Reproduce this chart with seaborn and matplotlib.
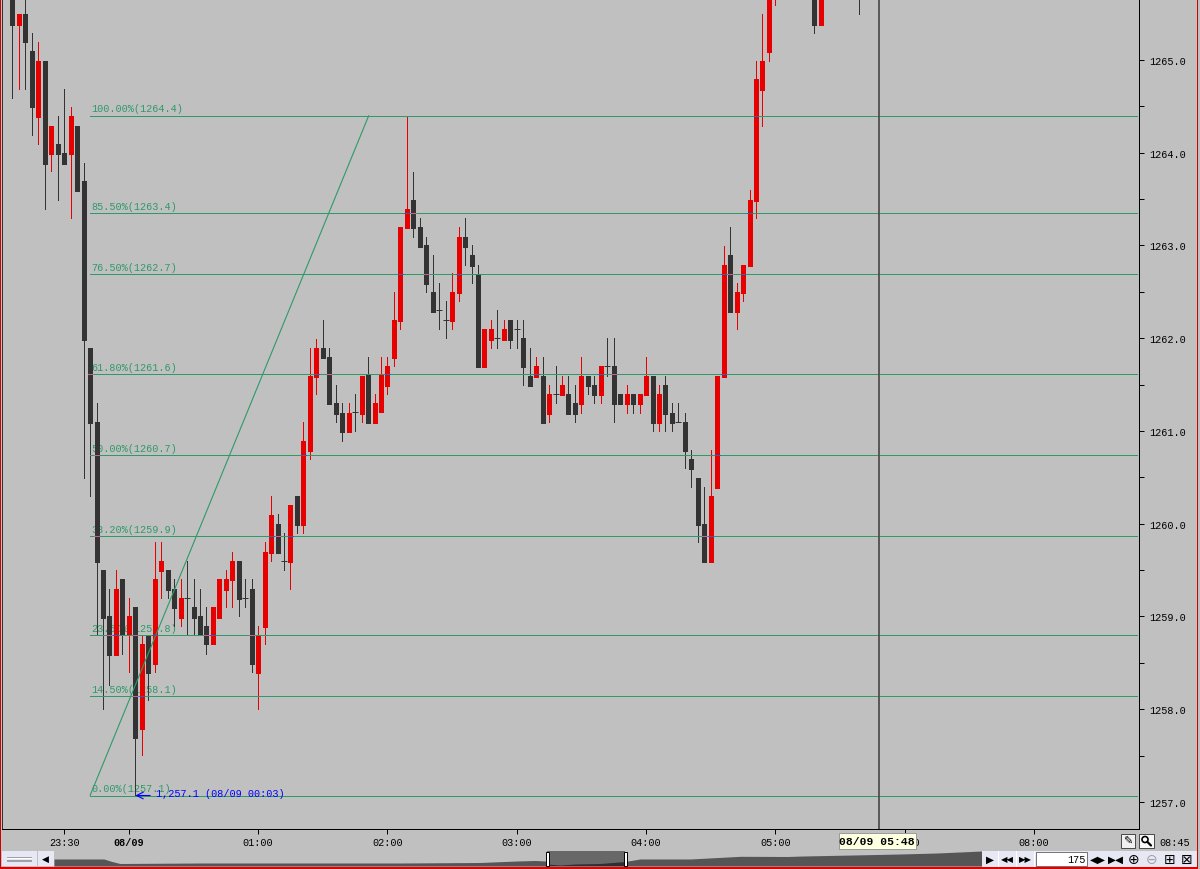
import numpy as np
import pandas as pd
import seaborn as sns
import matplotlib
matplotlib.use('Agg')
import matplotlib.pyplot as plt
from matplotlib.patches import Rectangle, Circle

nan = float('nan')

# 3 minute bars, bar 0 is 23:06. nan = bar is completely above the window
opens = [1265.9,1265.38,1265.5,1265.1,1264.39,1264.99,1263.99,1264.09,1264.0,1263.99,
         1264.29,1263.7,1261.89,1261.1,1259.5,1259.0,1258.58,1259.4,1258.8,1259.1,
         1257.79,1258.8,1258.49,1259.49,1259.5,1259.3,1258.98,1259.2,1259.1,1259.0,
         1258.9,1258.7,1258.98,1259.29,1259.39,1259.6,1259.2,1259.3,1258.39,1258.89,
         1259.68,1260.0,1259.6,1259.59,1260.3,1259.99,1260.78,1261.58,1261.89,1261.8,
         1261.3,1261.19,1260.99,1261.2,1261.18,1261.6,1261.09,1261.2,1261.49,1261.79,
         1262.19,1263.19,1263.49,1263.2,1263.0,1262.5,1262.3,1262.2,1262.19,1262.49,
         1263.09,1262.9,1262.68,1261.69,1261.98,1262.0,1261.98,1262.2,1262.1,1262.0,
         1261.59,1261.58,1261.59,1261.18,1261.4,1261.39,1261.4,1261.3,1261.29,1261.59,
         1261.5,1261.39,1261.7,1261.7,1261.4,1261.29,1261.4,1261.29,1261.39,1261.59,
         1261.09,1261.5,1261.19,1261.1,1261.1,1260.7,1260.49,1260.0,1259.59,1260.39,
         1261.58,1262.9,1262.28,1262.49,1262.78,1263.48,1264.68,1265.09,1265.9,nan,
         nan,nan,nan,nan,1265.9,1265.38,nan,nan,nan,nan,nan,1265.9]
highs = [1266.0,1265.5,1265.8,1265.29,1265.19,1264.99,1264.29,1264.4,1264.69,1264.49,
         1264.29,1263.89,1261.89,1261.3,1259.5,1259.3,1259.5,1259.4,1259.2,1259.1,
         1258.8,1258.8,1259.8,1259.8,1259.5,1259.4,1259.4,1259.6,1259.4,1259.3,
         1259.1,1259.1,1259.4,1259.5,1259.7,1259.6,1259.4,1259.4,1258.9,1259.8,
         1260.3,1260.1,1259.9,1260.2,1260.3,1261.1,1261.89,1261.99,1262.2,1261.89,
         1261.5,1261.3,1261.3,1261.4,1261.59,1261.8,1261.4,1261.8,1261.8,1262.5,
         1263.2,1264.4,1263.79,1263.3,1263.09,1262.9,1262.6,1262.4,1262.7,1263.2,
         1263.3,1263.0,1262.79,1262.1,1262.2,1262.3,1262.2,1262.2,1262.2,1262.2,
         1261.89,1261.8,1261.8,1261.5,1261.7,1261.59,1261.59,1261.5,1261.8,1261.59,
         1261.59,1261.7,1262.0,1262.0,1261.4,1261.5,1261.4,1261.4,1261.8,1261.59,
         1261.5,1261.59,1261.3,1261.3,1261.19,1260.79,1260.49,1260.4,1260.79,1261.59,
         1262.99,1263.2,1262.6,1262.79,1263.6,1264.99,1265.5,1265.9,1266.0,nan,
         nan,nan,nan,nan,1266.0,1265.9,nan,nan,nan,nan,nan,1266.0]
lows = [1264.59,1264.69,1264.69,1264.19,1264.09,1263.39,1263.8,1263.49,1263.88,1263.3,
        1263.59,1260.49,1260.3,1258.81,1258.0,1258.26,1258.58,1258.6,1258.4,1257.07,
        1257.51,1258.1,1258.4,1259.2,1259.2,1258.9,1258.9,1258.8,1258.8,1258.8,
        1258.6,1258.7,1258.98,1259.1,1259.1,1259.0,1259.1,1258.4,1258.0,1258.7,
        1259.6,1259.68,1259.5,1259.3,1259.9,1259.9,1260.7,1261.4,1261.79,1261.29,
        1261.1,1260.89,1260.99,1261.0,1261.1,1261.09,1261.09,1261.2,1261.4,1261.7,
        1262.1,1263.19,1263.09,1262.98,1262.5,1262.28,1262.1,1262.0,1262.1,1262.4,
        1262.79,1262.6,1261.69,1261.69,1261.89,1261.89,1261.98,1261.89,1261.89,1261.5,
        1261.49,1261.58,1261.09,1261.1,1261.3,1261.39,1261.18,1261.1,1261.19,1261.4,
        1261.3,1261.3,1261.59,1261.1,1261.29,1261.19,1261.19,1261.19,1261.39,1261.0,
        1261.0,1261.0,1261.0,1261.1,1260.6,1260.4,1259.8,1259.59,1259.59,1260.39,
        1261.58,1262.28,1262.1,1262.4,1262.78,1263.3,1264.29,1264.99,1265.59,nan,
        nan,nan,nan,nan,1265.29,1265.38,nan,nan,nan,nan,nan,1265.5]
closes = [1265.38,1265.5,1265.19,1264.49,1264.99,1263.88,1264.29,1263.99,1263.88,1264.4,
          1263.59,1261.98,1261.09,1259.59,1258.98,1258.58,1259.3,1258.8,1259.0,1257.69,
          1258.7,1258.39,1259.4,1259.6,1259.29,1259.09,1259.2,1259.2,1258.98,1258.8,
          1258.7,1259.1,1259.4,1259.4,1259.6,1259.19,1259.2,1258.49,1258.8,1259.7,
          1260.09,1259.68,1259.6,1260.2,1259.99,1260.89,1261.59,1261.89,1261.79,1261.29,
          1261.18,1260.99,1261.19,1261.2,1261.59,1261.09,1261.3,1261.6,1261.7,1262.2,
          1263.2,1263.39,1263.19,1262.98,1262.58,1262.28,1262.3,1262.2,1262.5,1263.09,
          1262.98,1262.78,1261.69,1262.1,1262.1,1262.0,1262.1,1261.98,1262.1,1261.69,
          1261.49,1261.7,1261.09,1261.4,1261.4,1261.5,1261.18,1261.18,1261.59,1261.49,
          1261.39,1261.7,1261.7,1261.29,1261.29,1261.4,1261.29,1261.4,1261.59,1261.09,
          1261.4,1261.18,1261.09,1261.1,1260.78,1260.59,1259.99,1259.59,1260.3,1261.59,
          1262.79,1262.28,1262.5,1262.79,1263.49,1264.8,1264.99,1265.8,1265.95,nan,
          nan,nan,nan,nan,1265.38,1265.9,nan,nan,nan,nan,nan,1265.8]

fib_levels = [1264.40,1263.35,1262.69,1261.61,1260.74,1259.87,1258.80,1258.14,1257.07]
fib_labels = ['100.00%(1264.4)','85.50%(1263.4)','76.50%(1262.7)','61.80%(1261.6)','50.00%(1260.7)',
              '38.20%(1259.9)','23.50%(1258.8)','14.50%(1258.1)','0.00%(1257.1)']
fib_start = 12
fib_end = 173.9
swing_bars = [12, 55.1]
swing_prices = [1257.07, 1264.40]

x_ticks = [8, 18, 38, 58, 78, 98, 118, 138, 158]
x_labels = ['23:30', '08/09', '01:00', '02:00', '03:00', '04:00', '05:00', '06:00', '08:00']
y_ticks = [1257, 1258, 1259, 1260, 1261, 1262, 1263, 1264, 1265]
crosshair_bar = 134

# overview strip at the bottom (estimated from the silhouette)
overview_pos = [0, 50, 58, 66, 146, 246, 346, 426, 463, 481, 492]
overview_vol = [7, 7, 4.5, 2.5, 3, 3, 3, 3.5, 5, 5.5, 5]
selected_pos = [493, 506, 521, 546, 556, 571]
selected_vol = [2, 1, 2, 2.5, 3.3, 4.5]
later_pos = [571, 586, 636, 687, 733, 749, 799, 846, 883, 928]
later_vol = [4.5, 7, 7, 9.7, 9.5, 10, 11, 12, 13, 15]

BG = '#C0C0C0'
RED = '#E60000'
DARK = '#333333'
GREEN = '#2E9A68'

sns.set_theme(style='white', rc={'axes.facecolor': BG, 'figure.facecolor': BG, 'savefig.facecolor': BG})
plt.rcParams['font.family'] = ['Liberation Mono', 'DejaVu Sans']

df = pd.DataFrame({'open': opens, 'high': highs, 'low': lows, 'close': closes})
df['bar'] = df.index
df = df.dropna()
df['kind'] = np.where(df['close'] > df['open'], 'up', 'down')
doji = df[df['close'] == df['open']]
solid = df[df['close'] != df['open']]
colors = {'up': RED, 'down': DARK}

wicks = df.melt(id_vars=['bar', 'kind'], value_vars=['low', 'high'], value_name='price')
bodies = solid.melt(id_vars=['bar', 'kind'], value_vars=['open', 'close'], value_name='price')

fig = plt.figure(figsize=(12, 8.7), dpi=100)
ax = fig.add_axes([2 / 1200, 40 / 870, 1136.5 / 1200, 830 / 870])

sns.lineplot(data=wicks, x='bar', y='price', units='bar', hue='kind', palette=colors, estimator=None, sort=False,
             legend=False, lw=0.72, antialiased=False, solid_capstyle='butt', zorder=2, ax=ax)
sns.lineplot(data=bodies, x='bar', y='price', units='bar', hue='kind', palette=colors, estimator=None, sort=False,
             legend=False, lw=3.6, antialiased=False, solid_capstyle='butt', zorder=2.1, ax=ax)
sns.scatterplot(data=doji, x='bar', y='close', marker='_', color=DARK, s=18, linewidth=0.72, zorder=2.1, ax=ax)

# fib levels and swing line
ax.hlines(fib_levels, fib_start, fib_end, color=GREEN, lw=0.72, antialiased=False, zorder=3)
sns.lineplot(x=swing_bars, y=swing_prices, color=GREEN, lw=0.8, zorder=3, ax=ax)
for lev, lab in zip(fib_levels, fib_labels):
    ax.annotate(lab, (fib_start, lev), xytext=(0.6, 1.6), textcoords='offset points', va='bottom',
                color=GREEN, fontsize=7.25, zorder=1)
    # the level line changes colour where it crosses a body
    hit = solid[(solid['bar'] >= fib_start) & (solid[['open', 'close']].min(axis=1) < lev)
                & (solid[['open', 'close']].max(axis=1) > lev)]
    for _, row in hit.iterrows():
        c = '#2A62C0' if row['kind'] == 'up' else '#C8609A'
        ax.hlines(lev, row['bar'] - 0.38, row['bar'] + 0.38, color=c, lw=0.72, antialiased=False, zorder=3.1)

ax.axvline(crosshair_bar, color='#505050', lw=1.3, zorder=3.2)

# low marker
low_i = df.loc[df['low'].idxmin()]
ax.annotate('', xy=(low_i['bar'], low_i['low']), xytext=(low_i['bar'] + 2.3, low_i['low']),
            arrowprops=dict(arrowstyle='->', color='#0000FF', lw=0.8, shrinkA=0, shrinkB=0), zorder=4)
ax.annotate('1,257.1 (08/09 00:03)', (low_i['bar'], low_i['low']), xytext=(15, 1.5), textcoords='offset points',
            va='center', color='#0000FF', fontsize=7.25, zorder=4)

ax.set_xlim(-1.624, 174.17)
ax.set_ylim(1265 - 769 / 92.75, 1265 + 61 / 92.75)
ax.set_xlabel('')
ax.set_ylabel('')
ax.set_xticks(x_ticks)
ax.set_xticklabels(x_labels, fontsize=7.3, color='black')
ax.get_xticklabels()[1].set_fontweight('bold')
ax.yaxis.tick_right()
ax.set_yticks(y_ticks)
ax.set_yticklabels(['%.1f' % v for v in y_ticks], fontsize=7.3, color='black')
ax.set_yticks([v + 0.5 for v in y_ticks[:-1]], minor=True)
ax.tick_params(axis='x', bottom=True, length=3.6, width=0.72, color='black', pad=2.5)
ax.tick_params(axis='y', which='major', right=True, length=3.6, width=0.72, color='black', pad=4)
ax.tick_params(axis='y', which='minor', right=True, length=3.6, width=0.72, color='black')
for side, on in {'top': False, 'left': True, 'right': True, 'bottom': True}.items():
    ax.spines[side].set_visible(on)
    ax.spines[side].set_color('black')
    ax.spines[side].set_linewidth(0.72)
ax.spines['left'].set_color('#303030')

# overview strip
ov = fig.add_axes([54 / 1200, 3 / 870, 928 / 1200, 15 / 870])
ov.axvspan(selected_pos[0], selected_pos[-1], color='#686868', lw=0)
ov.fill_between(overview_pos, 0, overview_vol, color='#555555', lw=0)
ov.fill_between(selected_pos, 0, selected_vol, color='#2F2F2F', lw=0)
ov.fill_between(later_pos, 0, later_vol, color='#555555', lw=0)
ov.set_xlim(0, 928)
ov.set_ylim(0, 15)
ov.axis('off')

# window chrome, drawn in screen pixels
ui = fig.add_axes([0, 0, 1, 1], zorder=5)
ui.set_xlim(0, 1200)
ui.set_ylim(870, 0)
ui.axis('off')
ui.patch.set_alpha(0)


def box(x0, y0, x1, y1, fc, ec='none', lw=0.0, zo=1):
    ui.add_patch(Rectangle((x0, y0), x1 - x0, y1 - y0, fc=fc, ec=ec, lw=lw, zorder=zo))


def icon(x, y, s, size=8.5, color='black'):
    ui.text(x, y, s, ha='center', va='center', fontsize=size, color=color, family='DejaVu Sans', zorder=3)


BTN = '#E6E8F4'
box(0, 0, 1.2, 870, '#D00000')
box(1196.8, 0, 1198, 870, '#D00000')
box(0, 867.6, 1198, 870, '#E00000')

box(2, 852, 37, 867, BTN)
box(7, 859, 32, 860, '#FFFFFF', zo=2)
box(7, 861, 32, 863, '#A0A0A8', zo=2)
box(7, 857.5, 32, 858.5, '#A0A0A8', zo=2)
box(37.5, 852, 53.5, 867, BTN)
icon(45, 859.5, '\u25c0', 6.5)

# overview selection handles
for hx in [547, 625]:
    box(545.5 + hx - 547, 852.5, 549 + hx - 547, 866.5, 'white', 'black', 0.7, 2)

# bottom-right buttons
box(982, 852, 1197, 867.6, BTN)
for bx in [998, 1016, 1034]:
    box(bx, 852, bx + 0.8, 867.6, '#FFFFFF', zo=2)
icon(990, 859.5, '\u25b6', 7.5)
icon(1007, 859.5, '\u25c0\u25c0', 6)
icon(1025, 859.5, '\u25b6\u25b6', 6)
box(1036, 852.5, 1087, 867, 'white', '#404040', 0.5, 2)
ui.text(1086, 860, '175', ha='right', va='center', fontsize=7.3, color='black', zorder=3)
icon(1098, 859.5, '\u25c0\u25b6', 7.5)
icon(1116, 859.5, '\u25b6\u25c0', 7.5)
icon(1134, 859.5, '\u2295', 10)
icon(1152, 859.5, '\u2296', 10, '#A0A0A8')
icon(1170, 859.5, '\u229e', 10)
icon(1187, 859.5, '\u22a0', 10)

# pencil and magnifier buttons
box(1120.7, 835, 1134.5, 849, '#F0F0F0', '#303030', 0.6)
icon(1127.5, 842, '\u270e', 8)
box(1139, 835, 1153.5, 849, '#F8F8F8', '#303030', 0.6)
ui.add_patch(Circle((1145, 840.5), 3, fc='white', ec='black', lw=1.2, zorder=3))
ui.plot([1147.5, 1151], [843, 846.5], color='black', lw=1.6, zorder=3)
ui.text(1175, 843, '08:45', ha='center', va='center', fontsize=7.3, color='black', zorder=3)

# crosshair time box
box(838.7, 834, 916, 850, '#FFFFE1', '#909090', 0.6, 2)
ui.text(877.3, 842.3, '08/09 05:48', ha='center', va='center', fontsize=8.2, fontweight='bold', color='black', zorder=3)

fig.savefig('out.png', dpi=100)
